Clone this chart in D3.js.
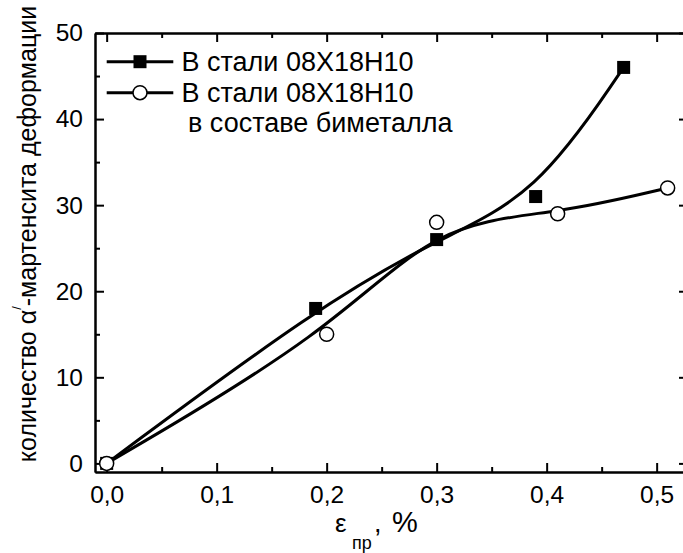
<!DOCTYPE html>
<html><head><meta charset="utf-8">
<script src="https://cdn.jsdelivr.net/npm/d3@7"></script>
<style>
body{margin:0;background:#fff;}
svg{display:block;font-family:"Liberation Sans",Arial,sans-serif;}
</style></head>
<body><svg id="c" width="683" height="553"></svg>
<script>
// ---- data ----
const seriesNames = ["В стали 08Х18Н10", "В стали 08Х18Н10"];
const seriesNameLine2 = ["", "в составе биметалла"];
const xSteel = [0, 0.19, 0.30, 0.39, 0.47];
const ySteel = [0, 18, 26, 31, 46];
const xBimetal = [0, 0.20, 0.30, 0.41, 0.51];
const yBimetal = [0, 15, 28, 29, 32];
const xTickValues = [0, 0.1, 0.2, 0.3, 0.4, 0.5];
const xTickLabels = ["0,0", "0,1", "0,2", "0,3", "0,4", "0,5"];
const xMinorTicks = [0.05, 0.15, 0.25, 0.35, 0.45];
const yTickValues = [0, 10, 20, 30, 40, 50];
const yTickLabels = ["0", "10", "20", "30", "40", "50"];
const yMinorTicks = [5, 15, 25, 35, 45];

const svg = d3.select("#c");
const L = 95, R = 688, T = 33, B = 472;
const x = d3.scaleLinear().domain([-0.0106, 0.5285]).range([L, R]);
const y = d3.scaleLinear().domain([-1, 50]).range([B, T]);

function styleAxis(g){
  g.selectAll("path.domain").attr("stroke","#000").attr("stroke-width",2);
  g.selectAll(".tick line").attr("stroke","#000").attr("stroke-width",2);
  g.selectAll(".tick text").attr("fill","#000").style("font-size","24.5px")
    .style("font-family","'Liberation Sans',Arial,sans-serif");
}
// bottom
const gb = svg.append("g").attr("transform",`translate(0,${B})`)
  .call(d3.axisBottom(x).tickValues(xTickValues).tickSizeInner(-9).tickSizeOuter(0)
    .tickPadding(14).tickFormat((d,i)=>xTickLabels[i]));
styleAxis(gb);
const gbm = svg.append("g").attr("transform",`translate(0,${B})`)
  .call(d3.axisBottom(x).tickValues(xMinorTicks).tickSizeInner(-5).tickSizeOuter(0).tickFormat(""));
styleAxis(gbm);
// top
const gt = svg.append("g").attr("transform",`translate(0,${T})`)
  .call(d3.axisTop(x).tickValues(xTickValues).tickSizeInner(-9).tickSizeOuter(0).tickFormat(""));
styleAxis(gt);
const gtm = svg.append("g").attr("transform",`translate(0,${T})`)
  .call(d3.axisTop(x).tickValues(xMinorTicks).tickSizeInner(-5).tickSizeOuter(0).tickFormat(""));
styleAxis(gtm);
// left
const gl = svg.append("g").attr("transform",`translate(${L},0)`)
  .call(d3.axisLeft(y).tickValues(yTickValues).tickSizeInner(-9).tickSizeOuter(0)
    .tickPadding(12).tickFormat((d,i)=>yTickLabels[i]));
styleAxis(gl);
const glm = svg.append("g").attr("transform",`translate(${L},0)`)
  .call(d3.axisLeft(y).tickValues(yMinorTicks).tickSizeInner(-5).tickSizeOuter(0).tickFormat(""));
styleAxis(glm);
// right
const gr = svg.append("g").attr("transform",`translate(${R},0)`)
  .call(d3.axisRight(y).tickValues(yTickValues).tickSizeInner(-9).tickSizeOuter(0).tickFormat(""));
styleAxis(gr);
const grm = svg.append("g").attr("transform",`translate(${R},0)`)
  .call(d3.axisRight(y).tickValues(yMinorTicks).tickSizeInner(-5).tickSizeOuter(0).tickFormat(""));
styleAxis(grm);

// curves
const line = d3.line().x(d=>x(d[0])).y(d=>y(d[1])).curve(d3.curveBasis);
const ptsA = xSteel.map((v,i)=>[v, ySteel[i]]);
const ptsB = xBimetal.map((v,i)=>[v, yBimetal[i]]);
svg.append("path").datum(ptsA).attr("d",line).attr("fill","none").attr("stroke","#000").attr("stroke-width",3);
svg.append("path").datum(ptsB).attr("d",line).attr("fill","none").attr("stroke","#000").attr("stroke-width",3);

const sq = 13, cr = 7;
svg.append("g").selectAll("rect").data(ptsA).join("rect")
  .attr("x",d=>x(d[0])-sq/2).attr("y",d=>y(d[1])-sq/2).attr("width",sq).attr("height",sq).attr("fill","#000");
svg.append("g").selectAll("circle").data(ptsB).join("circle")
  .attr("cx",d=>x(d[0])).attr("cy",d=>y(d[1])).attr("r",cr).attr("fill","#fff").attr("stroke","#000").attr("stroke-width",1.5);

// legend
const legY = [61.7, 92.7];
const lx1 = 106.7, lx2 = 173.3, lmx = 140;
legY.forEach((ly,i)=>{
  svg.append("line").attr("x1",lx1).attr("x2",lx2).attr("y1",ly).attr("y2",ly).attr("stroke","#000").attr("stroke-width",3);
  if(i===0){
    svg.append("rect").attr("x",lmx-sq/2).attr("y",ly-sq/2).attr("width",sq).attr("height",sq).attr("fill","#000");
  } else {
    svg.append("circle").attr("cx",lmx).attr("cy",ly).attr("r",cr).attr("fill","#fff").attr("stroke","#000").attr("stroke-width",1.5);
  }
  svg.append("text").attr("x",181.5).attr("y",ly+9).style("font-size","27px").text(seriesNames[i]);
  if(seriesNameLine2[i]){
    svg.append("text").attr("x",188).attr("y",ly+39).style("font-size","27px").text(seriesNameLine2[i]);
  }
});

// y axis title
const yt = svg.append("text").attr("transform","translate(36,234) rotate(-90)")
  .attr("text-anchor","middle").style("font-size","25px");
yt.append("tspan").text("количество ");
yt.append("tspan").text("α");
yt.append("tspan").attr("dy",-15).style("font-size","13px").text("/");
yt.append("tspan").attr("dy",15).text("-мартенсита деформации");

// x axis title
svg.append("text").attr("x",335).attr("y",532).style("font-size","26px").text("ε");
svg.append("text").attr("x",352).attr("y",549).style("font-size","18px").text("пр");
svg.append("text").attr("x",374).attr("y",532).style("font-size","27px").text(",");
svg.append("text").attr("x",392).attr("y",532).style("font-size","29px").text("%");
</script></body></html>
